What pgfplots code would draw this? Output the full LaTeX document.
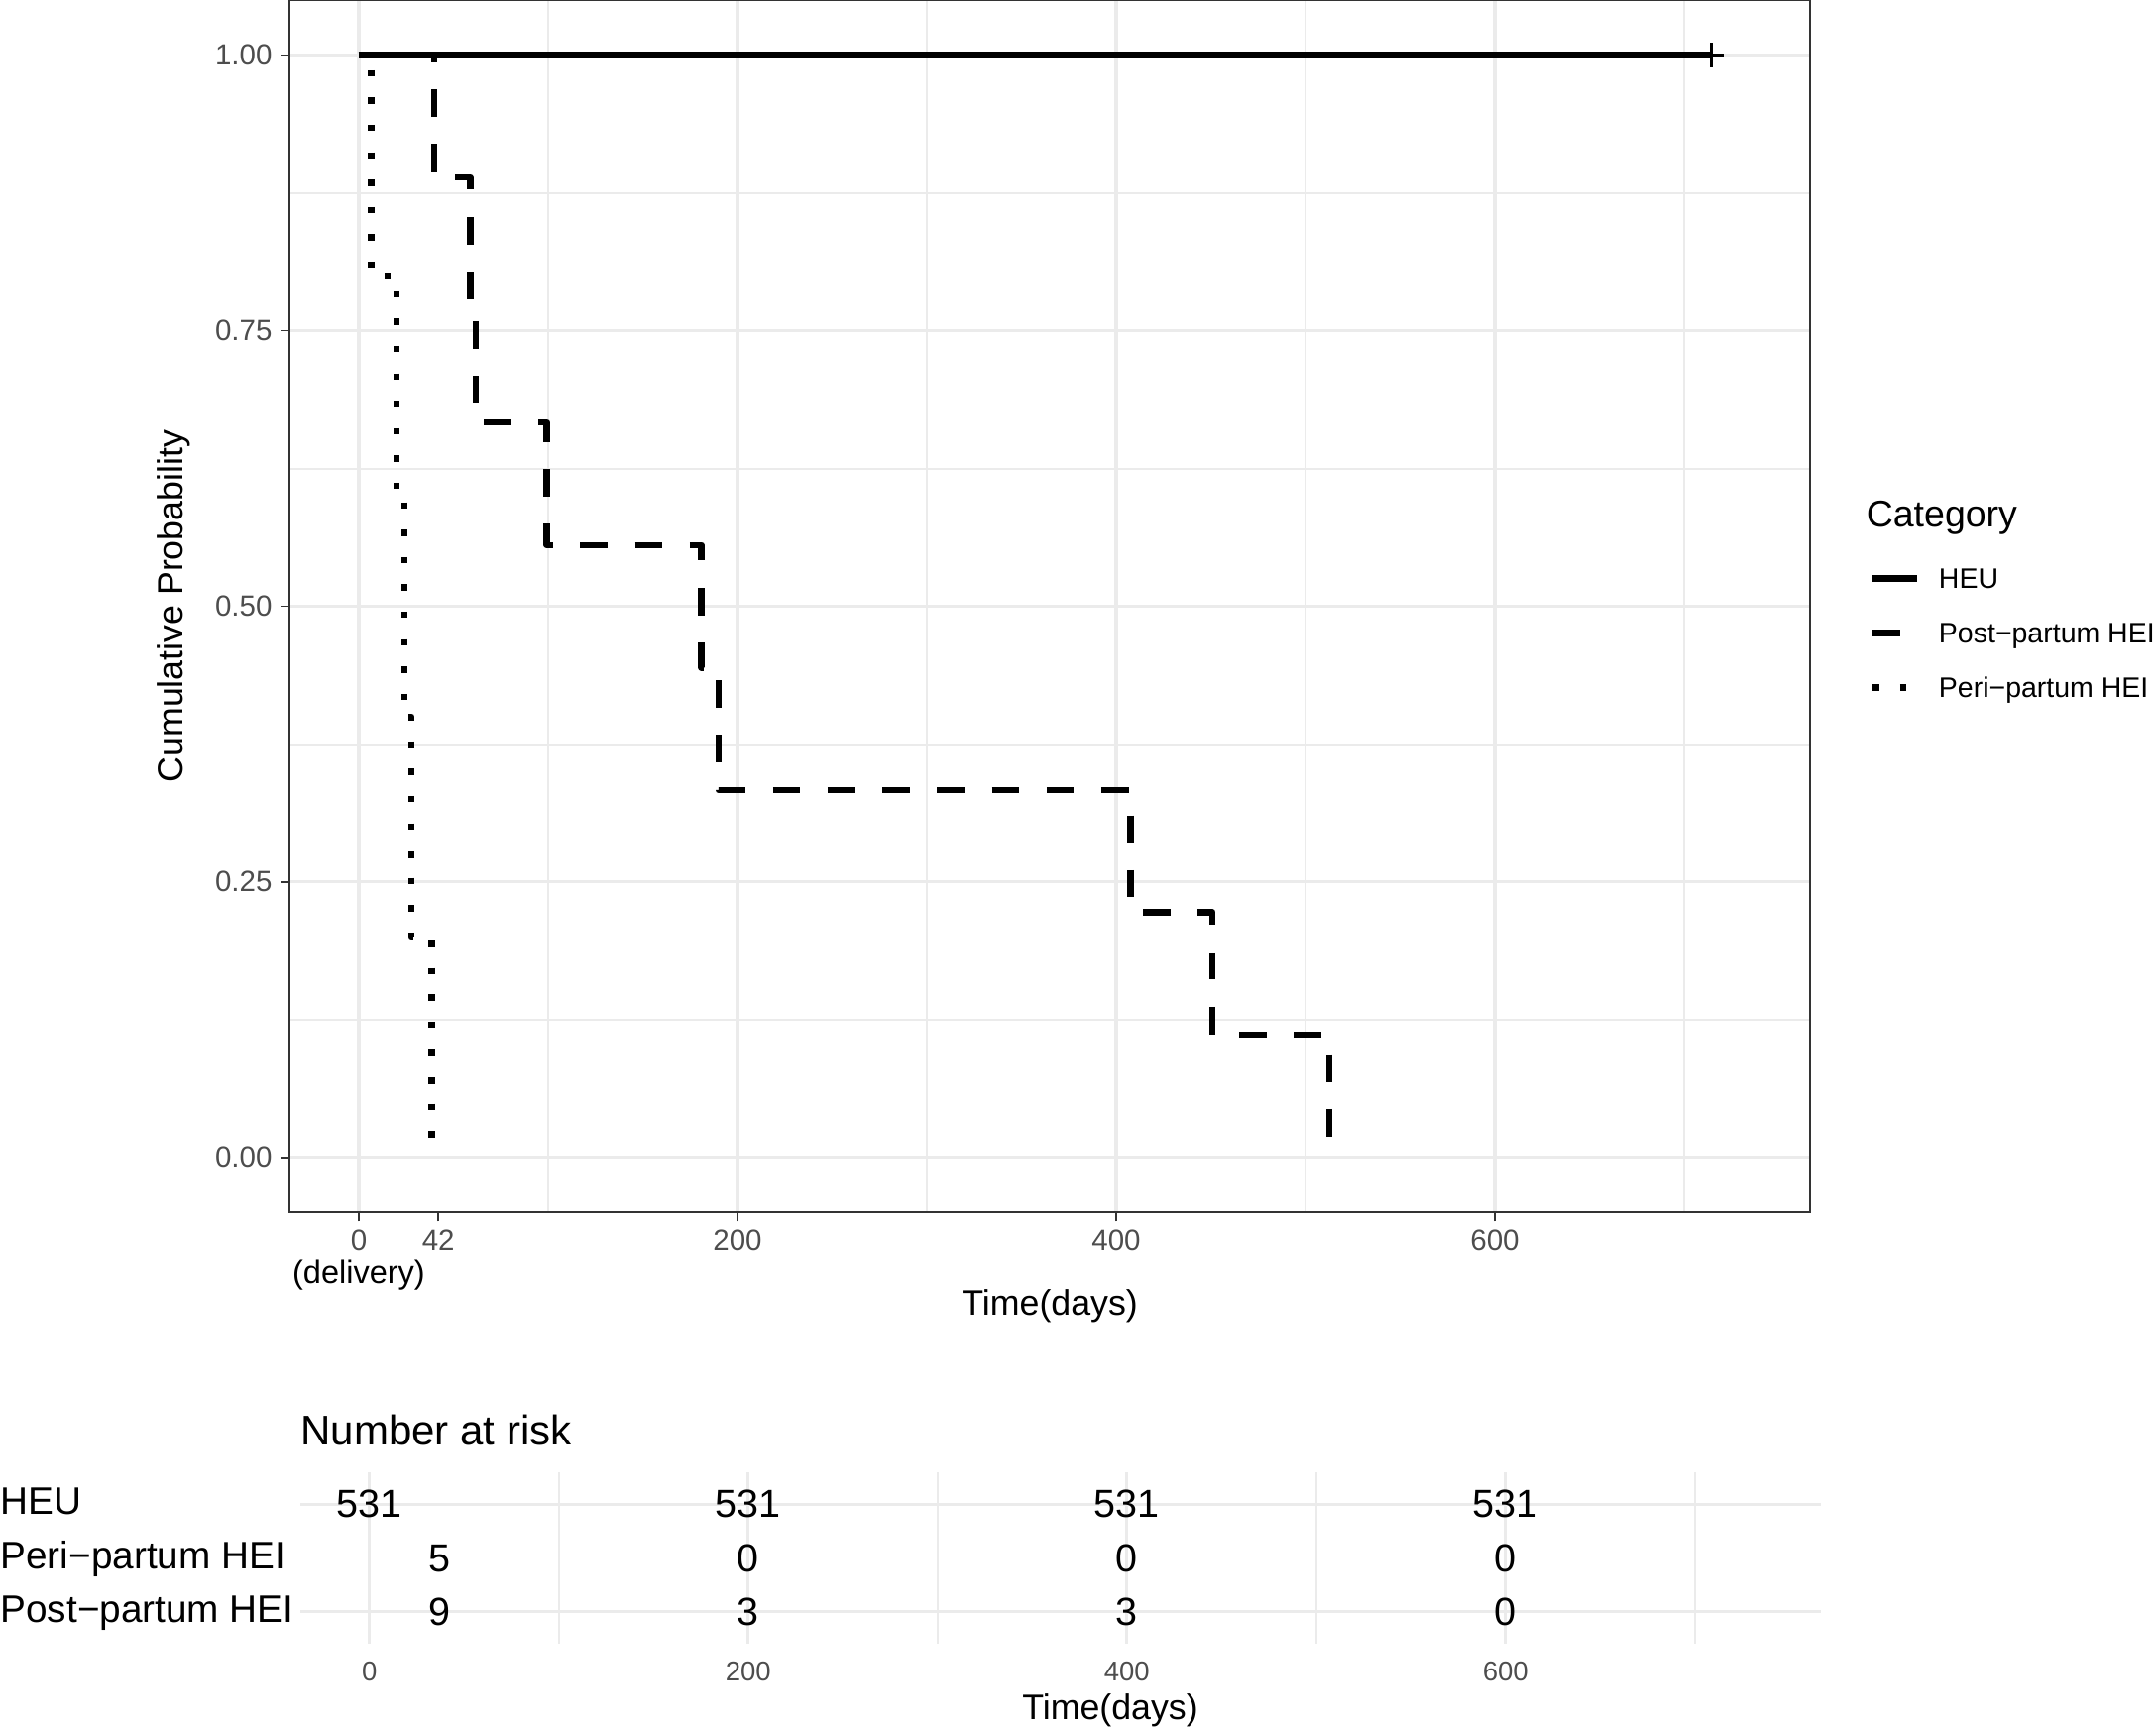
\documentclass[border=0pt]{standalone}
\usepackage{pgfplots}
\pgfplotsset{compat=1.18}
\usepackage{fontspec}
\setmainfont{Liberation Sans}
\definecolor{tickgray}{HTML}{4D4D4D}
\definecolor{axgray}{HTML}{333333}
\definecolor{gridgray}{HTML}{EBEBEB}
\newcommand\tickfont{\fontsize{11.8}{13}\selectfont}
\newcommand\titlefont{\fontsize{14.3}{16}\selectfont}
\newcommand\cattitlefont{\fontsize{15}{17}\selectfont}
\newcommand\legfont{\fontsize{11.4}{13}\selectfont}
\newcommand\delfont{\fontsize{13}{15}\selectfont}
\newcommand\rowfont{\fontsize{15.5}{18}\selectfont}
\newcommand\numfont{\fontsize{15.8}{18}\selectfont}
\newcommand\risktitlefont{\fontsize{16.8}{19}\selectfont}
\newcommand\rtickfont{\fontsize{11}{13}\selectfont}
\begin{document}
\begin{tikzpicture}
\useasboundingbox (0,0) rectangle (870pt,696.8pt);
% ---------------- main survival panel ----------------
\begin{axis}[
  at={(116.9pt,207.5pt)}, anchor=south west, scale only axis,
  width=613.5pt, height=489.3pt,
  xmin=-36.5, xmax=766.5, ymin=-0.05, ymax=1.05,
  clip mode=individual,
  axis line style={axgray, line width=0.7pt},
  tick style={axgray, line width=0.7pt},
  xtick pos=bottom, ytick pos=left,
  tick align=outside, major tick length=3.6pt, minor tick length=0pt,
  xtick={0,200,400,600}, xticklabels={0,200,400,600},
  extra x ticks={42}, extra x tick labels={42}, extra x tick style={grid=none},
  minor xtick={100,300,500,700},
  ytick={0,0.25,0.5,0.75,1}, yticklabels={0.00,0.25,0.50,0.75,1.00},
  minor ytick={0.125,0.375,0.625,0.875},
  grid=both,
  major grid style={gridgray, line width=1.3pt},
  minor grid style={gridgray, line width=0.8pt},
  ticklabel style={font=\tickfont, text=tickgray, inner sep=0pt},
  xticklabel style={anchor=base, yshift=-11.6pt},
  yticklabel style={anchor=east, xshift=-3.3pt},
  xlabel={Time(days)}, ylabel={Cumulative Probability},
  xlabel style={at={(axis description cs:0.5,-0.0848)}, anchor=base, font=\titlefont, inner sep=0pt},
  ylabel style={at={(axis description cs:-0.0766,0.5)}, anchor=center, font=\titlefont, inner sep=0pt},
  legend style={at={(axis description cs:1.0391,0.5314)}, anchor=north west,
    draw=none, fill=none, inner sep=0pt, outer sep=0pt,
    row sep=13.8pt, column sep=7.4pt, font=\legfont,
    nodes={inner sep=0pt, text height=8.2pt, text depth=0pt, anchor=west}},
  legend cell align=left,
  legend image code/.code={\draw[#1] (0pt,0pt) -- (18pt,0pt);},
]
\addlegendimage{black, line width=2.6pt, line cap=butt}
\addlegendentry{HEU}
\addlegendimage{black, line width=2.6pt, line cap=butt, dash pattern=on 11.04pt off 11.04pt}
\addlegendentry{Post−partum HEI}
\addlegendimage{black, line width=2.6pt, line cap=butt, dash pattern=on 2.6pt off 8.44pt}
\addlegendentry{Peri−partum HEI}

% Peri-partum HEI (dotted)
\addplot[forget plot, black, line width=2.6pt, line cap=butt, line join=round,
  dash pattern=on 2.6pt off 8.44pt] coordinates {
  (0,1) (6.5,1) (6.5,0.8) (19.8,0.8) (19.8,0.6) (24,0.6) (24,0.4)
  (27.8,0.4) (27.8,0.2) (38.5,0.2) (38.5,0)
};
% Post-partum HEI (dashed)
\addplot[forget plot, black, line width=2.6pt, line cap=butt, line join=round,
  dash pattern=on 11.04pt off 11.04pt] coordinates {
  (0,1) (39.7,1) (39.7,0.8889) (58.9,0.8889) (58.9,0.7778) (61.8,0.7778)
  (61.8,0.6667) (99.3,0.6667) (99.3,0.5556) (181,0.5556) (181,0.4444)
  (190,0.4444) (190,0.3333) (407.6,0.3333) (407.6,0.2222) (450.9,0.2222)
  (450.9,0.1111) (512.6,0.1111) (512.6,0)
};
% HEU (solid) with censor mark
\addplot[forget plot, black, line width=2.6pt, line cap=butt] coordinates {(0,1) (714.3,1)};
\addplot[forget plot, black, only marks, mark=+, mark size=5pt, mark options={line width=1pt}] coordinates {(714.3,1)};

\node[anchor=base west, inner sep=0pt, font=\cattitlefont] at (axis description cs:1.0367,0.5654) {Category};
\node[anchor=base, inner sep=0pt, font=\delfont] at (axis description cs:0.04545,-0.0585) {(delivery)};
\end{axis}

% ---------------- number at risk table ----------------
\begin{axis}[
  at={(121.2pt,33.5pt)}, anchor=south west, scale only axis,
  width=613.5pt, height=69.4pt,
  xmin=-36.5, xmax=766.5, ymin=0.4, ymax=3.6, y dir=reverse,
  clip=false,
  axis line style={draw=none}, major tick length=0pt, minor tick length=0pt,
  xtick={0,200,400,600}, xticklabels={0,200,400,600},
  minor xtick={100,300,500,700},
  ytick={1,3}, yticklabels={HEU,Post−partum HEI},
  extra y ticks={2}, extra y tick labels={Peri−partum HEI}, extra y tick style={grid=none},
  xmajorgrids, xminorgrids, ymajorgrids,
  major grid style={gridgray, line width=1.3pt},
  minor grid style={gridgray, line width=0.8pt},
  xticklabel style={font=\rtickfont, text=tickgray, anchor=base, inner sep=0pt, yshift=-14.7pt},
  yticklabel style={font=\rowfont, text=black, anchor=base west, inner sep=0pt, xshift=-121.2pt, yshift=-4.2pt},
  title={Number at risk},
  title style={at={(axis description cs:0,1)}, anchor=base west, inner sep=0pt, yshift=5pt, font=\risktitlefont},
  xlabel={Time(days)},
  xlabel style={at={(axis description cs:0.5327,0)}, anchor=base, yshift=-30.5pt, inner sep=0pt, font=\titlefont},
]
\addplot[draw=none, mark=none, nodes near coords, point meta=explicit symbolic,
  every node near coord/.append style={anchor=base, inner sep=0pt, yshift=-5.4pt, font=\numfont, text=black}]
  table[meta=n] {
x y n
0 1 531
200 1 531
400 1 531
600 1 531
37 2 5
200 2 0
400 2 0
600 2 0
37 3 9
200 3 3
400 3 3
600 3 0
};
\end{axis}
\end{tikzpicture}
\end{document}
